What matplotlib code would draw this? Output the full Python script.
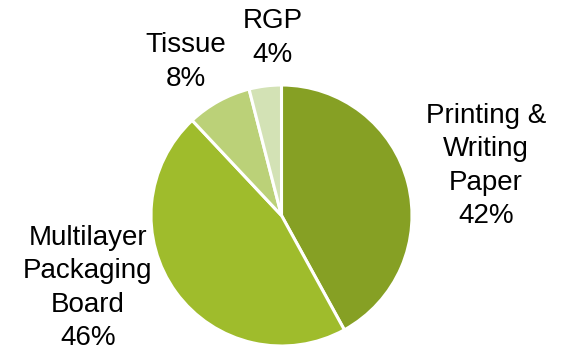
import matplotlib
matplotlib.use("Agg")
import matplotlib.pyplot as plt

categories = ["Printing &\nWriting\nPaper", "Multilayer\nPackaging\nBoard", "Tissue", "RGP"]
shares = [42, 46, 8, 4]
colors = ["#86A024", "#9FBC2C", "#BBD178", "#D3E2B5"]

# label anchor positions (pixel space of the figure)
label_xy = [(486, 166), (88, 288), (186, 62), (273, 38)]

W, H = 569, 350
fig = plt.figure(figsize=(W / 100, H / 100), dpi=100)
ax = fig.add_axes([0, 0, 1, 1])
ax.set_xlim(0, W)
ax.set_ylim(0, H)
ax.set_aspect("equal")
ax.axis("off")

ax.pie(shares, colors=colors, startangle=90, counterclock=False,
       center=(281.5, H - 215.5), radius=130.5,
       wedgeprops=dict(edgecolor="white", linewidth=2.2))
ax.set_xlim(0, W)
ax.set_ylim(0, H)

for name, val, (x, y) in zip(categories, shares, label_xy):
    ax.text(x, H - y, f"{name}\n{val}%", ha="center", va="center",
            fontsize=20, family="Liberation Sans", color="black",
            linespacing=1.36)

fig.savefig("out.png", dpi=100)
